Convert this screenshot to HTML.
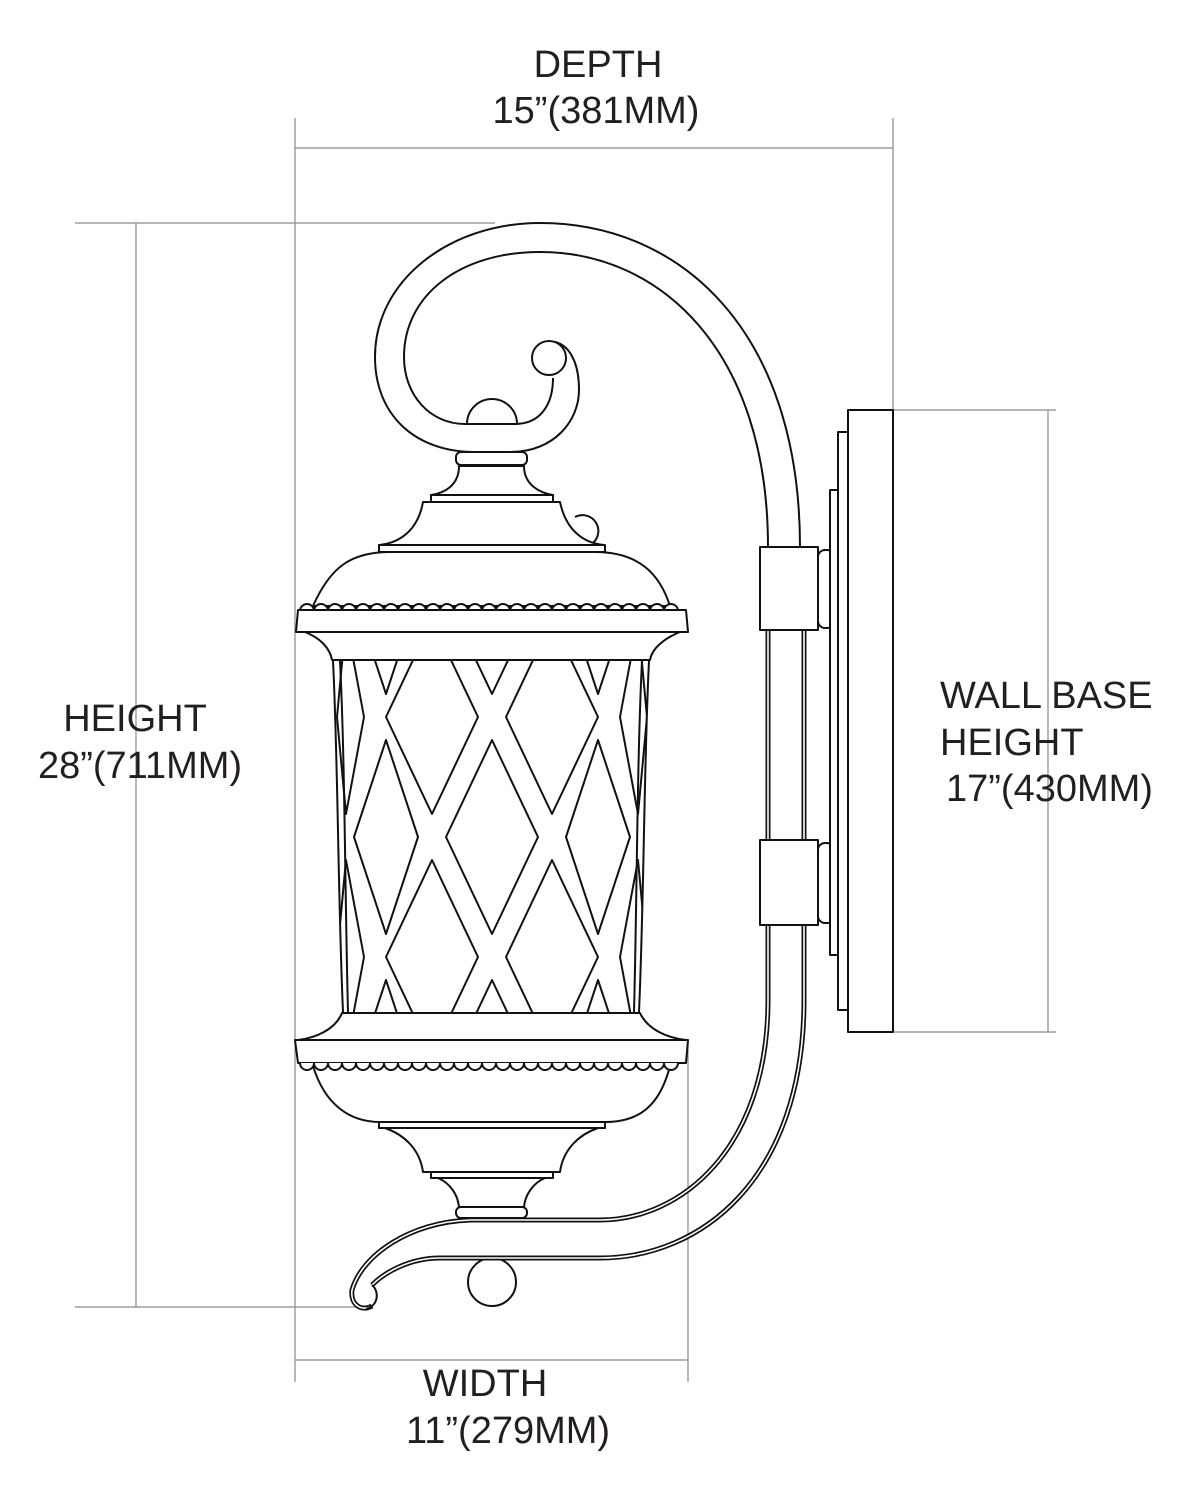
<!DOCTYPE html>
<html><head><meta charset="utf-8"><style>
html,body{margin:0;padding:0;background:#fff}
svg{display:block}
text{font-family:"Liberation Sans",Arial,sans-serif;font-size:38px;fill:#231f20}
</style></head><body>
<svg width="1190" height="1500" viewBox="0 0 1190 1500" xmlns="http://www.w3.org/2000/svg">
<defs>
<clipPath id="cage"><path d="M333 661 C338 760 338 900 343 1012 L639 1012 C644 900 644 760 649 661 Z"/></clipPath>
</defs>
<g stroke="#8a8a8a" stroke-width="1.2" fill="none">
<line x1="295" y1="118" x2="295" y2="1382"/>
<line x1="893" y1="118" x2="893" y2="410"/>
<line x1="295" y1="148" x2="893" y2="148"/>
<line x1="75" y1="223" x2="495" y2="223"/>
<line x1="75" y1="1307" x2="370" y2="1307"/>
<line x1="136" y1="223" x2="136" y2="1307"/>
<line x1="893" y1="410" x2="1056" y2="410"/>
<line x1="893" y1="1032" x2="1056" y2="1032"/>
<line x1="1048" y1="410" x2="1048" y2="1032"/>
<line x1="688" y1="1040" x2="688" y2="1382"/>
<line x1="295" y1="1360" x2="688" y2="1360"/>
</g>
<text x="598" y="77" text-anchor="middle">DEPTH</text>
<text x="596" y="123" text-anchor="middle">15”(381MM)</text>
<text x="135" y="731" text-anchor="middle">HEIGHT</text>
<text x="140" y="778" text-anchor="middle">28”(711MM)</text>
<text x="940" y="708">WALL BASE</text>
<text x="940" y="755">HEIGHT</text>
<text x="946" y="801">17”(430MM)</text>
<text x="485" y="1396" text-anchor="middle">WIDTH</text>
<text x="508" y="1443" text-anchor="middle">11”(279MM)</text>

<g stroke="#111" stroke-width="2" fill="#fff" stroke-linejoin="round">
<path fill="none" d="M800 547 C800 330 680 223 540 223 C450 223 375 280 375 357 C375 415 415 452 475 452 L510 452 C555 452 579 420 579 390 C579 360 568 345 555 342"/>
<path fill="none" d="M768 547 C768 350 660 252 540 252 C460 252 404 295 404 357 C404 395 430 424 465 424 L515 424 C540 424 553 405 553 378"/>
<circle cx="549" cy="358" r="17"/>
<path d="M467 424 A25 25 0 1 1 517 424 Z"/>
<path d="M459 466 C459 485 445 493 431 495 L553 495 C540 493 524 485 524 466 Z"/>
<rect x="456" y="452" width="71" height="13" rx="5"/>
<rect x="431" y="495" width="122" height="7"/>
<path d="M575 517 A15 15 0 0 1 590 545"/>
<path d="M423 502 C418 530 400 543 379 545 L604 545 C583 543 566 530 560 502 Z"/>
<rect x="379" y="545" width="226" height="7"/>
<path d="M313 606 C330 568 350 552 390 552 L595 552 C640 552 660 575 670 606 Z"/>
<path d="M300 611 a7 7 0 0 1 14 0 a7 7 0 0 1 14 0 a7 7 0 0 1 14 0 a7 7 0 0 1 14 0 a7 7 0 0 1 14 0 a7 7 0 0 1 14 0 a7 7 0 0 1 14 0 a7 7 0 0 1 14 0 a7 7 0 0 1 14 0 a7 7 0 0 1 14 0 a7 7 0 0 1 14 0 a7 7 0 0 1 14 0 a7 7 0 0 1 14 0 a7 7 0 0 1 14 0 a7 7 0 0 1 14 0 a7 7 0 0 1 14 0 a7 7 0 0 1 14 0 a7 7 0 0 1 14 0 a7 7 0 0 1 14 0 a7 7 0 0 1 14 0 a7 7 0 0 1 14 0 a7 7 0 0 1 14 0 a7 7 0 0 1 14 0 a7 7 0 0 1 14 0 a7 7 0 0 1 14 0 a7 7 0 0 1 14 0 a7 7 0 0 1 14 0"/>
<path d="M305 632 C320 638 330 648 332 660 L650 660 C652 648 665 638 680 632 Z"/>
<polygon points="298,610 686,610 688,632 296,632"/>
<g clip-path="url(#cage)" fill="none" stroke-width="2">
<polygon points="492,500 538,597 492,694 446,597"/>
<polygon points="492,740 538,837 492,934 446,837"/>
<polygon points="492,980 538,1077 492,1174 446,1077"/>
<polygon points="432,620 478,717 432,814 386,717"/>
<polygon points="552,620 598,717 552,814 506,717"/>
<polygon points="432,860 478,957 432,1054 386,957"/>
<polygon points="552,860 598,957 552,1054 506,957"/>
<polygon points="386,500 418,597 386,694 354,597"/>
<polygon points="386,740 418,837 386,934 354,837"/>
<polygon points="386,980 418,1077 386,1174 354,1077"/>
<polygon points="598,500 630,597 598,694 566,597"/>
<polygon points="598,740 630,837 598,934 566,837"/>
<polygon points="598,980 630,1077 598,1174 566,1077"/>
<polygon points="346,620 364,717 346,814 337,717"/>
<polygon points="346,860 364,957 346,1054 337,957"/>
<polygon points="638,620 647,717 638,814 620,717"/>
<polygon points="638,860 647,957 638,1054 620,957"/>
</g>
<path fill="none" d="M333 661 C338 760 338 900 343 1012"/>
<path fill="none" d="M340 661 C345 760 345 900 348 1012"/>
<path fill="none" d="M649 661 C644 760 644 900 639 1012"/>
<path fill="none" d="M642 661 C637 760 637 900 634 1012"/>
<path d="M342 1013 C335 1030 315 1038 298 1040 L686 1040 C668 1038 648 1030 640 1013 Z"/>
<polygon points="295,1040 688,1040 686,1063 298,1063"/>
<path d="M313 1066 C325 1105 350 1122 380 1122 L605 1122 C640 1122 660 1105 670 1066 Z"/>
<path d="M300 1063 a7 7 0 0 0 14 0 a7 7 0 0 0 14 0 a7 7 0 0 0 14 0 a7 7 0 0 0 14 0 a7 7 0 0 0 14 0 a7 7 0 0 0 14 0 a7 7 0 0 0 14 0 a7 7 0 0 0 14 0 a7 7 0 0 0 14 0 a7 7 0 0 0 14 0 a7 7 0 0 0 14 0 a7 7 0 0 0 14 0 a7 7 0 0 0 14 0 a7 7 0 0 0 14 0 a7 7 0 0 0 14 0 a7 7 0 0 0 14 0 a7 7 0 0 0 14 0 a7 7 0 0 0 14 0 a7 7 0 0 0 14 0 a7 7 0 0 0 14 0 a7 7 0 0 0 14 0 a7 7 0 0 0 14 0 a7 7 0 0 0 14 0 a7 7 0 0 0 14 0 a7 7 0 0 0 14 0 a7 7 0 0 0 14 0 a7 7 0 0 0 14 0"/>
<rect x="379" y="1122" width="226" height="6"/>
<path d="M385 1128 C405 1135 420 1150 423 1172 L560 1172 C563 1150 578 1135 598 1128 Z"/>
<rect x="431" y="1172" width="122" height="6"/>
<path d="M438 1178 C450 1183 458 1195 459 1207 L524 1207 C525 1195 533 1183 545 1178 Z"/>
<rect x="456" y="1207" width="71" height="11" rx="5"/>
<circle cx="492" cy="1282" r="24"/>
<g fill="none">
<path stroke-width="5" d="M768 630 L768 1000 C768 1150 680 1220 600 1220 L470 1220 C410 1222 362 1255 352 1290 C350 1305 362 1312 372 1306"/>
<path stroke="#fff" stroke-width="1.6" d="M768 630 L768 1000 C768 1150 680 1220 600 1220 L470 1220 C410 1222 362 1255 352 1290 C350 1305 362 1312 372 1306"/>
<path stroke-width="5" d="M804 630 L804 1000 C804 1180 700 1258 600 1258 L440 1258 C410 1258 385 1272 372 1285"/>
<path stroke="#fff" stroke-width="1.6" d="M804 630 L804 1000 C804 1180 700 1258 600 1258 L440 1258 C410 1258 385 1272 372 1285"/>
<path stroke-width="2" d="M372 1285 C380 1292 378 1306 366 1309"/>
</g>
<rect x="760" y="547" width="58" height="83"/>
<rect x="760" y="840" width="58" height="85"/>
<rect x="818" y="550" width="16" height="78" rx="7"/>
<rect x="818" y="843" width="16" height="80" rx="7"/>
<rect x="830" y="490" width="8" height="465"/>
<rect x="838" y="432" width="10" height="578"/>
<rect x="848" y="410" width="45" height="622"/>
</g>
</svg>
</body></html>
